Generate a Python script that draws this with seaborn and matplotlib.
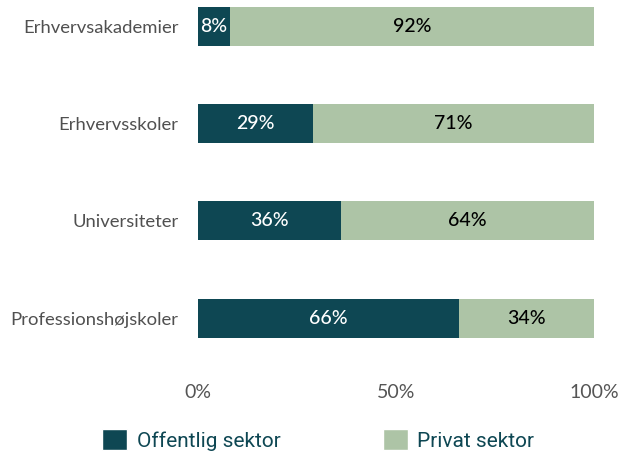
import pandas as pd
import matplotlib.pyplot as plt
import seaborn as sns
from matplotlib.patches import Patch

# data
institutions = ['Erhvervsakademier', 'Erhvervsskoler', 'Universiteter', 'Professionshøjskoler']
offentlig = [8, 29, 36, 66]
privat = [92, 71, 64, 34]

dark = '#0e4753'
light = '#adc4a6'

df = pd.DataFrame({'inst': institutions, 'off': offentlig, 'priv': privat})
df['total'] = df['off'] + df['priv']

sns.set_theme(style='white')
plt.rcParams['font.family'] = ['Lato', 'DejaVu Sans']

fig = plt.figure(figsize=(6.19, 4.54), dpi=100)
ax = fig.add_axes([198 / 619, 1 - 360 / 454, 396 / 619, 360 / 454])

sns.barplot(data=df, y='inst', x='total', color=light, width=0.4,
            orient='h', ax=ax, saturation=1, linewidth=0)
sns.barplot(data=df, y='inst', x='off', color=dark, width=0.4,
            orient='h', ax=ax, saturation=1, linewidth=0)

# bar labels
for i, row in df.iterrows():
    ax.text(row['off'] / 2, i, f"{row['off']}%", ha='center', va='center',
            color='white', fontsize=14, fontweight='medium')
    ax.text(row['off'] + row['priv'] / 2, i, f"{row['priv']}%", ha='center',
            va='center', color='black', fontsize=14, fontweight='medium')

ax.set_xlim(0, 100)
ax.set_ylim(3.426, -0.267)
ax.set_xticks([0, 50, 100])
ax.set_xticklabels(['0%', '50%', '100%'])
ax.set_xlabel('')
ax.set_ylabel('')
ax.tick_params(axis='x', length=0, pad=17, labelsize=14, labelcolor='#555555')
ax.tick_params(axis='y', length=0, pad=14, labelsize=13.3, labelcolor='#505050')
sns.despine(ax=ax, left=True, bottom=True)

handles = [Patch(facecolor=dark, label='Offentlig sektor'),
           Patch(facecolor=light, label='Privat sektor')]
leg = fig.legend(handles=handles, loc='lower center', ncol=2, frameon=False,
                 bbox_to_anchor=(0.514, -0.034), handlelength=1.2, handleheight=1.2,
                 handletextpad=0.45, columnspacing=4.9,
                 prop={'family': 'Roboto', 'size': 15})
for t in leg.get_texts():
    t.set_color('#0e4753')

fig.savefig('out.png', dpi=100)
